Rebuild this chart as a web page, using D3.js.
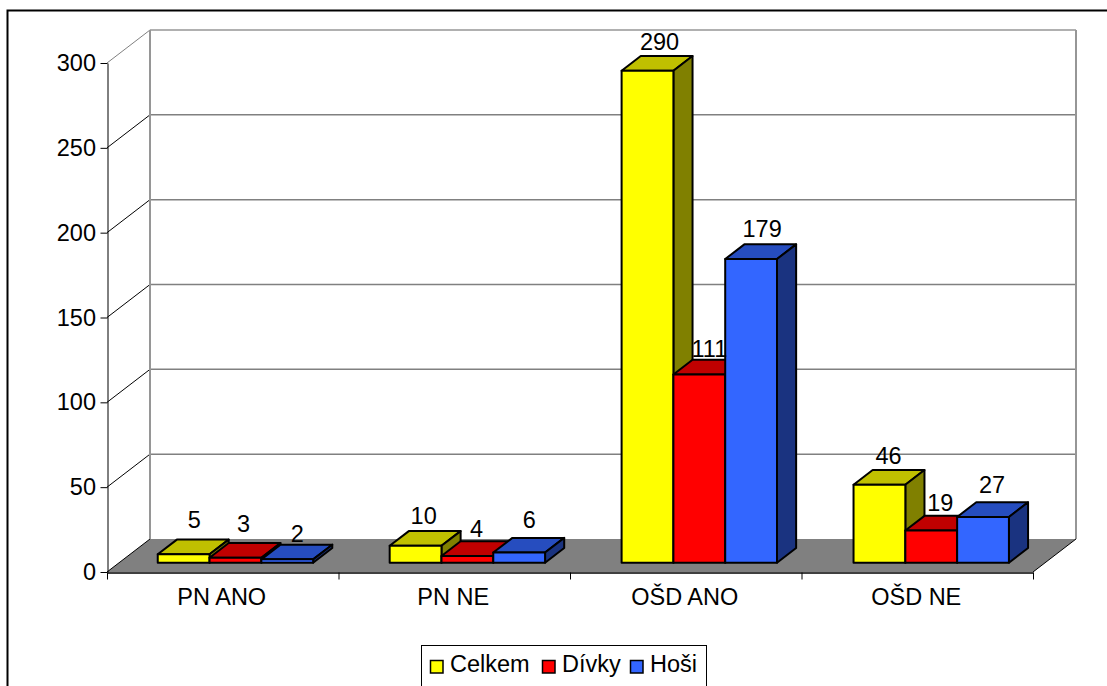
<!DOCTYPE html>
<html>
<head>
<meta charset="utf-8">
<title>PN a OŠD</title>
<script src="https://cdn.jsdelivr.net/npm/d3@7"></script>
<style>
    html, body { margin: 0; padding: 0; background: white; overflow: hidden; }
    text { font-family: "Liberation Sans", Arial, sans-serif; fill: #000; }
</style>
</head>
<body>
<div id="chart"></div>
<script>
const categories = ["PN ANO", "PN NE", "OŠD ANO", "OŠD NE"];
const seriesNames = ["Celkem", "Dívky", "Hoši"];
const celkem = [5, 10, 290, 46];
const divky = [3, 4, 111, 19];
const hosi = [2, 6, 179, 27];
const yTicks = [0, 50, 100, 150, 200, 250, 300];

// front, top and side shades of each series
const shades = [
    { front: "#ffff00", top: "#c0c000", side: "#808000" },
    { front: "#ff0000", top: "#c00000", side: "#800000" },
    { front: "#3366ff", top: "#264dbf", side: "#1a3380" }
];

// label nudges in px per series and category, the labels do not sit evenly above the bars
const labelNudge = [
    [[1, -3.5], [-1.5, 1], [2.5, 2], [-0.5, 2]],
    [[-1.5, -2.5], [-0.5, 3.5], [0.5, 5], [-0.5, 3]],
    [[0.5, 5], [0.5, -2], [1.5, 0.5], [-0.5, -1.5]]
];

const width = 1107, height = 686;
const margin = { left: 107, right: 1033, top: 63, bottom: 572 };
const depthX = 43, depthY = 33;
const fontSize = 23.5;

const svg = d3.select("#chart")
    .append("svg")
    .attr("width", width)
    .attr("height", height)
    .style("display", "block");

// frame runs off the top right and the bottom
svg.append("path")
    .attr("d", `M7.5,${height + 5}V10.5H${width + 5}`)
    .attr("fill", "none")
    .attr("stroke", "#000")
    .attr("stroke-width", 2);

const y = d3.scaleLinear().domain([0, 300]).range([margin.bottom, margin.top]);
const x = d3.scaleBand()
    .domain(categories)
    .range([108.6, 1034])
    .paddingInner(0.33)
    .paddingOuter(0.16);
const xInner = d3.scaleBand().domain(seriesNames).range([0, x.bandwidth()]);
const xEdges = d3.scaleLinear().domain([0, categories.length]).range([margin.left, margin.right]);

// z runs from the front axis (0) to the back wall (1)
const px = d3.scaleLinear().domain([0, 1]).range([0, depthX]);
const py = d3.scaleLinear().domain([0, 1]).range([0, -depthY]);
const barZ0 = 0.28, barZ1 = 0.725;

const line3d = d3.line();
const project = (sx, value, z) => [sx + px(z), y(value) + py(z)];

// floor
svg.append("path")
    .attr("d", line3d([
        project(margin.left, 0, 0), project(margin.left, 0, 1),
        project(margin.right, 0, 1), project(margin.right, 0, 0)
    ]) + "Z")
    .attr("fill", "#808080");

// back wall gridlines and their return along the side wall
const grid = svg.append("g");
yTicks.forEach(t => {
    if (t > 0) {
        grid.append("path")
            .attr("d", line3d([project(margin.left, t, 1), project(margin.right, t, 1)]))
            .attr("fill", "none")
            .attr("stroke", t === 300 ? "#969696" : "#808080")
            .attr("stroke-width", 1.5);
    }
    grid.append("path")
        .attr("d", line3d([project(margin.left, t, 0), project(margin.left, t, 1)]))
        .attr("fill", "none")
        .attr("stroke", t === 300 ? "#808080" : "#000")
        .attr("stroke-width", 1);
});

// wall corners
[margin.left, margin.right].forEach(sx => {
    grid.append("path")
        .attr("d", line3d([project(sx, 0, 1), project(sx, 300, 1)]))
        .attr("fill", "none")
        .attr("stroke", "#969696")
        .attr("stroke-width", 2);
});
grid.append("path")
    .attr("d", line3d([project(margin.right, 0, 0), project(margin.right, 0, 1)]))
    .attr("fill", "none")
    .attr("stroke", "#000")
    .attr("stroke-width", 1);

// value axis
const yAxis = svg.append("g")
    .attr("transform", `translate(${margin.left + 0.5},0)`)
    .call(d3.axisLeft(y).tickValues(yTicks).tickSize(7).tickPadding(4.5).tickSizeOuter(0));
yAxis.selectAll("text").attr("font-size", fontSize).attr("font-family", null);
yAxis.selectAll("line, path").attr("stroke", "#000");

// category axis, the ticks fall between the categories
const xAxis = svg.append("g")
    .attr("transform", `translate(0,${margin.bottom + 0.5})`)
    .call(d3.axisBottom(xEdges).ticks(categories.length).tickSize(7).tickFormat("").tickSizeOuter(0));
xAxis.selectAll("line").attr("stroke", "#000");
xAxis.select("path").attr("stroke", "#000").attr("stroke-width", 1.5);

svg.append("g")
    .selectAll("text")
    .data(categories)
    .enter()
    .append("text")
    .attr("x", (d, i) => xEdges(i + 0.5) - 1)
    .attr("y", margin.bottom + 33)
    .attr("text-anchor", "middle")
    .attr("font-size", fontSize)
    .text(d => d);

// bars, drawn series by series so each front covers the side of the previous bar
const seriesValues = [celkem, divky, hosi];
const barsLayer = svg.append("g")
    .attr("stroke", "#000")
    .attr("stroke-width", 2)
    .attr("stroke-linejoin", "round");
const labelsLayer = svg.append("g");

categories.forEach((cat, c) => {
    seriesNames.forEach((name, s) => {
        const v = seriesValues[s][c];
        const x0 = x(cat) + xInner(name);
        const x1 = x0 + xInner.bandwidth();
        const bar = barsLayer.append("g");

        bar.append("path")
            .attr("d", line3d([
                project(x0, v, barZ0), project(x0, v, barZ1),
                project(x1, v, barZ1), project(x1, v, barZ0)
            ]) + "Z")
            .attr("fill", shades[s].top);

        bar.append("path")
            .attr("d", line3d([
                project(x1, 0, barZ0), project(x1, v, barZ0),
                project(x1, v, barZ1), project(x1, 0, barZ1)
            ]) + "Z")
            .attr("fill", shades[s].side);

        bar.append("path")
            .attr("d", line3d([
                project(x0, 0, barZ0), project(x0, v, barZ0),
                project(x1, v, barZ0), project(x1, 0, barZ0)
            ]) + "Z")
            .attr("fill", shades[s].front);

        // labels sit over the middle of the bar's depth, above its back edge
        const lx = project((x0 + x1) / 2, v, (barZ0 + barZ1) / 2)[0];
        const ly = project(x0, v, barZ1)[1];
        labelsLayer.append("text")
            .attr("x", lx + labelNudge[s][c][0])
            .attr("y", ly - 8 + labelNudge[s][c][1])
            .attr("text-anchor", "middle")
            .attr("font-size", fontSize)
            .text(v);
    });
});

// legend, its box is cut by the bottom edge
const legend = svg.append("g");
legend.append("rect")
    .attr("x", 421.5)
    .attr("y", 645.5)
    .attr("width", 285)
    .attr("height", 60)
    .attr("fill", "white")
    .attr("stroke", "#000")
    .attr("stroke-width", 1);

const legendX = d3.scaleOrdinal().domain(seriesNames).range([430, 542, 630]);
seriesNames.forEach((name, s) => {
    legend.append("rect")
        .attr("x", legendX(name) + 0.5)
        .attr("y", 660.5)
        .attr("width", 12.5)
        .attr("height", 12.5)
        .attr("fill", shades[s].front)
        .attr("stroke", "#000")
        .attr("stroke-width", 1.5);
    legend.append("text")
        .attr("x", legendX(name) + 20)
        .attr("y", 672)
        .attr("font-size", fontSize)
        .text(name);
});
</script>
</body>
</html>
